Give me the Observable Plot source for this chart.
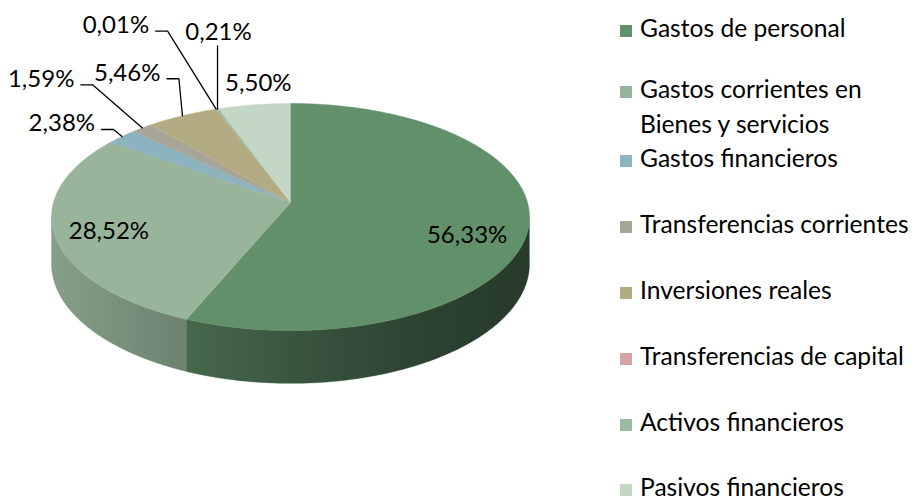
<!DOCTYPE html>
<html><head><meta charset="utf-8">
<script src="https://cdn.jsdelivr.net/npm/d3@7"></script>
<script src="https://cdn.jsdelivr.net/npm/@observablehq/plot@0.6"></script>
<style>
html,body{margin:0;padding:0;background:#fff;}
#chart{position:relative;width:914px;height:501px;overflow:hidden;font-family:Lato,sans-serif;}
#chart svg{position:absolute;left:0;top:0;}
.lg-text{position:absolute;left:640px;font-size:24.6px;line-height:24.6px;color:#000;white-space:nowrap;}
.lg-sw{position:absolute;left:620px;width:12px;height:12px;}
</style></head>
<body><div id="chart"></div>
<script>
// ---- data ----
const categories = ["Gastos de personal","Gastos corrientes en Bienes y servicios","Gastos financieros","Transferencias corrientes","Inversiones reales","Transferencias de capital","Activos financieros","Pasivos financieros"];
const shares = [56.33, 28.52, 2.38, 1.59, 5.46, 0.01, 0.21, 5.50];
const shareLabels = ["56,33%","28,52%","2,38%","1,59%","5,46%","0,01%","0,21%","5,50%"];
const legendLines = [["Gastos de personal"],["Gastos corrientes en","Bienes y servicios"],["Gastos financieros"],["Transferencias corrientes"],["Inversiones reales"],["Transferencias de capital"],["Activos financieros"],["Pasivos financieros"]];

// ---- style / layout ----
const sliceColors = ["#62906a","#98b49a","#8cb3be","#a6a597","#b3ac82","#d4a3a5","#9bbba0","#c3d7c4"];
const CX = 290, CY = 202, XR = 237, YB = 111.7;   // projection of the pie
const K = 0.128, DEPTH = 0.412;                    // perspective and thickness
// label placement: kind, [dx, dy] px from anchor
const labelKind = ["inside","inside","elbow","elbow","elbow","elbow","vertical","plain"];
const labelOffset = [[-1,24],[-6,13],[-27,-5],[-68,-41],[-22,-35],[-67,-76],[1,-69],[4,-14]];
const legendBaselines = [[37.7],[99,133.5],[168],[234],[300],[366],[432],[497]];
const FONT = 24;

// ---- geometry ----
const TAU = 2*Math.PI;
function proj(theta, f, h){
  const u = f*Math.sin(theta), v = -f*Math.cos(theta);
  const s = 1/(1 - K*v);
  return {x: u*s, y: (v + h*DEPTH)*s};
}
function arc(a0, a1, f, h){
  const n = Math.max(2, Math.ceil((a1-a0)/(Math.PI/360))+1);
  return d3.range(n).map(j => proj(a0 + (a1-a0)*j/(n-1), f, h));
}
const total = d3.sum(shares);
let acc = 0;
const slices = shares.map((v,i) => {
  const a0 = acc/total*TAU; acc += v; const a1 = acc/total*TAU;
  return {i, a0, a1, mid:(a0+a1)/2};
});
const T1 = Math.acos(-K), T2 = TAU - T1;

const topRows = slices.flatMap(s =>
  [proj(0,0,0), ...arc(s.a0, s.a1, 1, 0)].map(p => ({slice:s.i, x:p.x, y:p.y, fill:sliceColors[s.i]})));

const sideRows = slices.flatMap(s => {
  const a = Math.max(s.a0, T1), b = Math.min(s.a1, T2);
  if (a >= b) return [];
  return [...arc(a, b, 1, 0), ...arc(a, b, 1, 1).reverse()].map(p => ({slice:s.i, x:p.x, y:p.y, fill:sliceColors[s.i]}));
});
const shadeRows = [...arc(T1, T2, 1, 0), ...arc(T1, T2, 1, 1).reverse()];

const pxX = XR, pxY = YB;
const labelRows = slices.map(s => {
  const kind = labelKind[s.i];
  const anchor = kind === "inside" ? proj(s.mid, 0.75, 0) : proj(s.mid, 1, 0);
  const [dx, dy] = labelOffset[s.i];
  return {slice:s.i, kind, text:shareLabels[s.i], ax:anchor.x, ay:anchor.y,
          x: anchor.x + dx/pxX, y: anchor.y + dy/pxY};
});
const leaderRows = labelRows.flatMap(l => {
  if (l.kind === "elbow") {
    const sx = l.x + 6.5/pxX, sy = l.y - 2/pxY;
    return [{slice:l.slice, x:sx, y:sy},{slice:l.slice, x:sx+12/pxX, y:sy},{slice:l.slice, x:l.ax, y:l.ay}];
  }
  if (l.kind === "vertical") {
    return [{slice:l.slice, x:l.ax, y:l.y + 6/pxY},{slice:l.slice, x:l.ax, y:l.ay}];
  }
  return [];
});

const plot = Plot.plot({
  width: 600, height: 501, margin: 0,
  x: {domain:[-1,1], range:[CX-XR, CX+XR], axis:null},
  y: {domain:[-1,1], range:[CY-YB, CY+YB], axis:null},
  color: {type:"identity"},
  style: {fontFamily:"Lato, sans-serif", background:"transparent", overflow:"visible"},
  marks: [
    Plot.line(sideRows, {x:"x", y:"y", z:"slice", fill:"fill", stroke:"fill", strokeWidth:0.5}),
    Plot.line(shadeRows, {x:"x", y:"y", fill:"url(#pieShade)", stroke:"none"}),
    Plot.line(topRows, {x:"x", y:"y", z:"slice", fill:"fill", stroke:"fill", strokeWidth:0.5}),
    Plot.line(leaderRows, {x:"x", y:"y", z:"slice", stroke:"#000", strokeWidth:1.3, strokeLinejoin:"miter"}),
    Plot.text(labelRows.filter(d => d.kind === "elbow"), {x:"x", y:"y", text:"text", textAnchor:"end", lineAnchor:"bottom", fontSize:FONT, fill:"#000"}),
    Plot.text(labelRows.filter(d => d.kind !== "elbow"), {x:"x", y:"y", text:"text", textAnchor:"middle", lineAnchor:"bottom", fontSize:FONT, fill:"#000"})
  ]
});

// shading gradient for the visible rim (lit from the left)
const xs = plot.scale("x");
const x0 = xs.apply(-1.01), x1 = xs.apply(1.01);
const defs = d3.select(plot).insert("defs", ":first-child");
const g = defs.append("linearGradient").attr("id","pieShade").attr("gradientUnits","userSpaceOnUse")
  .attr("x1", x0).attr("x2", x1).attr("y1", 0).attr("y2", 0);
[[0,0.12],[0.283,0.28],[0.584,0.45],[0.795,0.55],[1,0.59]].forEach(([o,a]) =>
  g.append("stop").attr("offset", o).attr("stop-color","#000").attr("stop-opacity", a));

const chart = document.getElementById("chart");
chart.appendChild(plot);

// legend
legendLines.forEach((lines, i) => {
  const bl = legendBaselines[i];
  const sw = document.createElement("div");
  sw.className = "lg-sw";
  sw.style.background = sliceColors[i];
  sw.style.top = (bl[0] - 13) + "px";
  chart.appendChild(sw);
  lines.forEach((t, j) => {
    const d = document.createElement("div");
    d.className = "lg-text";
    d.textContent = t;
    d.style.top = (bl[j] - 21.8) + "px";
    chart.appendChild(d);
  });
});
</script>
</body></html>
